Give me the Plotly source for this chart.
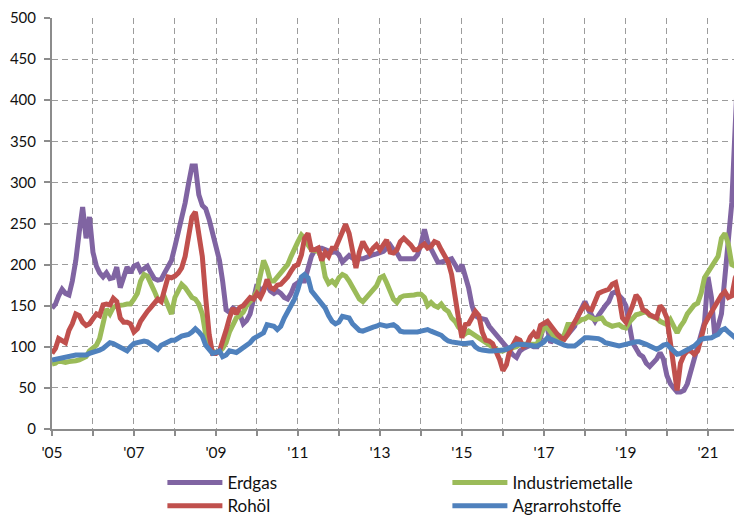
import pandas as pd
import plotly.graph_objects as go

# Monthly values, Jan 2005 .. Oct 2021 (index)
erdgas = [
    147, 152, 162, 170, 165, 163, 180, 205, 240, 270, 232, 258,   # 2005
    215, 198, 190, 185, 190, 183, 184, 197, 172, 185, 197, 190,   # 2006
    198, 200, 192, 195, 198, 190, 183, 181, 182, 190, 198, 205,   # 2007
    222, 240, 252, 275, 298, 320, 320, 285, 272, 268, 255, 238,   # 2008
    225, 205, 180, 145, 142, 147, 145, 140, 128, 132, 140, 160,   # 2009
    176, 168, 172, 175, 168, 165, 168, 165, 160, 158, 165, 175,   # 2010
    178, 180, 180, 195, 210, 218, 220, 220, 218, 216, 215, 216,   # 2011
    212, 203, 208, 211, 208, 207, 207, 207, 209, 211, 212, 213,   # 2012
    214, 216, 220, 224, 218, 214, 207, 207, 206, 207, 207, 212,   # 2013
    225, 243, 228, 219, 210, 203, 203, 204, 205, 207, 200, 192,   # 2014
    200, 185, 172, 150, 138, 135, 134, 133, 125, 120, 115, 110,   # 2015
    107, 100, 95, 90, 87, 95, 98, 100, 102, 100, 100, 110,        # 2016
    128, 122, 105, 110, 115, 112, 111, 115, 120, 125, 138, 148,   # 2017
    155, 145, 138, 131, 138, 145, 150, 155, 165, 167, 163, 158,   # 2018
    150, 125, 105, 98, 91, 88, 80, 76, 80, 85, 93, 85,            # 2019
    65, 55, 50, 45, 45, 47, 55, 70, 85, 98, 118, 130,             # 2020
    185, 160, 115, 125, 140, 190, 230, 275, 370, 459,             # 2021
]
rohoel = [
    92, 98, 110, 108, 105, 120, 128, 140, 138, 130, 126, 128,
    135, 140, 138, 151, 152, 151, 159, 155, 135, 130, 130, 128,
    118, 122, 131, 138, 143, 148, 152, 158, 155, 170, 185, 184,
    186, 190, 196, 210, 235, 258, 264, 240, 210, 160, 115, 92,
    92, 95, 105, 120, 135, 147, 140, 148, 150, 155, 160, 158,
    165, 160, 168, 182, 172, 170, 175, 176, 180, 185, 192, 198,
    200, 212, 232, 238, 218, 218, 220, 205, 215, 210, 220, 220,
    230, 240, 249, 238, 215, 196, 215, 228, 220, 214, 220, 224,
    218, 226, 230, 215, 214, 218, 228, 232, 228, 224, 218, 218,
    222, 225, 220, 222, 228, 226, 218, 210, 203, 188, 165, 135,
    111, 127, 128, 135, 143, 138, 118, 108, 107, 104, 95, 85,
    71, 78, 95, 104, 110, 108, 100, 102, 112, 117, 111, 126,
    128, 131, 126, 120, 115, 111, 109, 115, 123, 130, 140, 145,
    151, 146, 145, 155, 165, 167, 168, 170, 176, 178, 160, 135,
    130, 140, 150, 163, 158, 145, 143, 139, 137, 135, 150, 145,
    135, 105, 75, 47, 80, 90, 95, 95, 91, 95, 110, 127,
    135, 143, 147, 155, 163, 167, 160, 162, 184, 192,
]
industriemetalle = [
    79, 80, 83, 82, 81, 82, 82, 83, 84, 86, 88, 95,
    98, 102, 110, 127, 146, 140, 148, 150, 150, 151, 152, 152,
    158, 165, 180, 188, 186, 175, 168, 158, 156, 160, 150, 140,
    160, 168, 176, 172, 165, 160, 158, 152, 140, 115, 100, 95,
    93, 94, 98, 105, 118, 128, 135, 138, 142, 150, 155, 160,
    168, 185, 205, 195, 180, 180, 184, 190, 195, 200, 210, 220,
    228, 236, 232, 224, 218, 217, 216, 208, 185, 177, 180, 176,
    184, 188, 186, 180, 172, 164, 158, 155, 160, 164, 168, 174,
    184, 186, 178, 166, 158, 154, 160, 162, 162, 162, 163, 164,
    164, 160, 150, 154, 150, 148, 152, 146, 143, 135, 131, 124,
    119, 116, 119, 116, 113, 111, 108, 105, 102, 99, 97, 95,
    95, 97, 97, 99, 100, 103, 103, 102, 103, 102, 103, 115,
    123, 123, 118, 113, 110, 107, 115, 127, 127, 128, 130, 133,
    134, 137, 135, 133, 134, 135, 129, 127, 125, 126, 127, 124,
    123, 130, 135, 139, 140, 141, 143, 138, 136, 135, 131, 129,
    127, 133, 125, 117, 125, 131, 140, 146, 151, 153, 165, 184,
    190, 196, 202, 210, 232, 238, 225, 200, 198, 196,
]
agrarrohstoffe = [
    84, 85, 86, 86, 87, 88, 89, 90, 90, 90, 90, 92,
    93, 95, 96, 98, 102, 105, 104, 102, 100, 97, 95, 100,
    104, 105, 106, 107, 106, 103, 100, 97, 102, 104, 106, 108,
    108, 111, 113, 114, 115, 118, 122, 118, 113, 102, 96, 92,
    93, 95, 88, 90, 95, 94, 93, 96, 99, 102, 105, 110,
    113, 115, 117, 127, 126, 125, 121, 125, 135, 142, 150, 158,
    170, 185, 188, 184, 168, 163, 159, 152, 147, 138, 131, 128,
    130, 137, 136, 135, 128, 123, 120, 119, 121, 123, 124, 125,
    127, 126, 125, 126, 127, 124, 119, 118, 118, 118, 117, 118,
    119, 120, 121, 119, 117, 115, 114, 110, 107, 106, 105, 105,
    104, 104, 104, 105, 100, 97, 96, 95, 95, 95, 95, 95,
    96, 97, 99, 101, 103, 103, 103, 103, 102, 101, 101, 103,
    106, 111, 109, 107, 105, 103, 102, 101, 101, 101, 104, 108,
    111, 111, 111, 111, 110, 108, 105, 104, 103, 102, 101, 102,
    103, 105, 105, 106, 106, 105, 103, 101, 99, 97, 99, 102,
    103, 99, 95, 91, 92, 94, 96, 99, 101, 105, 109, 110,
    110, 111, 113, 115, 120, 122, 118, 114, 111, 115,
]

years = list(range(2005, 2022))
tick_labels = ["'%02d" % (y % 100) if y % 2 == 1 else "" for y in years]

dates = pd.date_range("2005-01-01", periods=len(erdgas), freq="MS")

series = [
    ("Erdgas", erdgas, "#8064A2", "legend"),
    ("Industriemetalle", industriemetalle, "#9BBB59", "legend"),
    ("Rohöl", rohoel, "#C0504D", "legend2"),
    ("Agrarrohstoffe", agrarrohstoffe, "#4F81BD", "legend2"),
]

fig = go.Figure()
for name, vals, col, leg in series:
    fig.add_trace(go.Scatter(
        x=dates, y=vals, name=name, mode="lines",
        line=dict(color=col, width=5), legend=leg,
    ))

fam = "Lato, 'Open Sans', sans-serif"
tick_font = dict(family=fam, size=15.5, color="#111111")
ytick_font = dict(family=fam, size=15, color="#111111")
leg_font = dict(family=fam, size=17, color="#111111")

leg_common = dict(
    orientation="h", x=0.16, xanchor="left", yanchor="middle",
    entrywidth=215, entrywidthmode="pixels", itemwidth=55,
    font=leg_font, bgcolor="rgba(0,0,0,0)",
)

# The page is shown with an 8px body margin, so the figure is 8px smaller
fig.update_layout(
    template="none",
    width=734, height=507,
    margin=dict(l=44, r=0, t=10, b=86, autoexpand=False),
    paper_bgcolor="white", plot_bgcolor="white",
    font=tick_font,
    showlegend=True,
    legend=dict(y=-0.131, **leg_common),
    legend2=dict(y=-0.188, **leg_common),
)

grid = dict(showgrid=True, gridcolor="#9c9c9c", gridwidth=1.4, griddash="6px,4px")

fig.update_xaxes(
    type="date",
    range=[pd.Timestamp("2005-01-01"), pd.Timestamp("2021-10-31")],
    tickvals=[pd.Timestamp(f"{y}-01-01") for y in years],
    ticktext=tick_labels,
    showline=True, linecolor="#8c8c8c", linewidth=2,
    ticks="outside", ticklen=5, tickcolor="#8c8c8c", tickwidth=2,
    ticklabelstandoff=3, tickfont=tick_font,
    zeroline=False, **grid,
)
fig.update_yaxes(
    range=[0, 500], dtick=50, tick0=0,
    showline=True, linecolor="#8c8c8c", linewidth=2,
    ticks="outside", ticklen=6, tickcolor="#8c8c8c", tickwidth=2,
    ticklabelstandoff=5, tickfont=ytick_font, ticklabeloverflow="allow",
    zeroline=False, **grid,
)

fig.write_html("out.html")
